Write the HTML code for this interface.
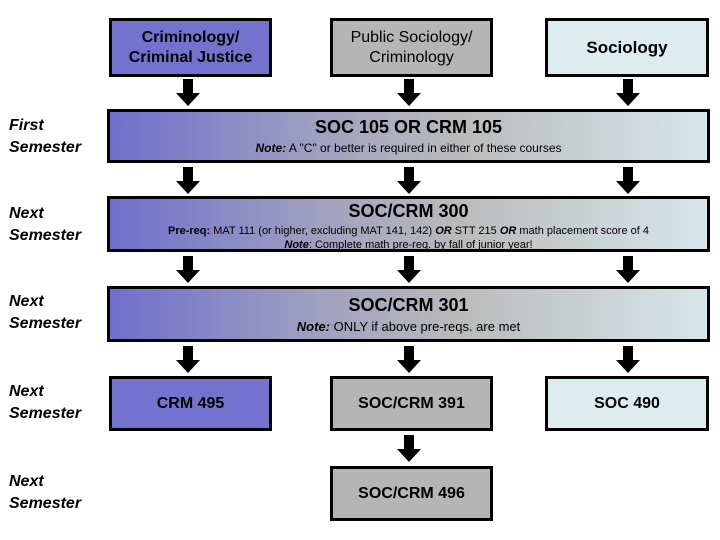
<!DOCTYPE html>
<html><head><meta charset="utf-8"><style>
body{margin:0;width:720px;height:540px;background:#fff;position:relative;overflow:hidden;font-family:"Liberation Sans",Arial,sans-serif;}
.b{position:absolute;box-sizing:border-box;border:3px solid #000;display:flex;flex-direction:column;align-items:center;justify-content:center;text-align:center;font-weight:bold;color:#000;}
.p{background:#7373cf}.g{background:#b5b5b5}.l{background:#dcecef}
.band{background:linear-gradient(to right,#6f6fcd 0%,#a0a0c0 35%,#bcbcbc 60%,#d6e6ea 100%);}
.lab{position:absolute;left:9px;font-style:italic;font-weight:bold;font-size:16px;line-height:22px;}
.t{font-size:18px;}
.n{font-weight:normal;font-size:12px;line-height:15px;}
svg{position:absolute;left:0;top:0}
</style></head><body>
<div class="b p" style="left:109px;top:18px;width:163px;height:59px;font-size:16px;line-height:20px">Criminology/<br>Criminal Justice</div>
<div class="b g" style="left:330px;top:18px;width:163px;height:59px;font-size:16px;line-height:20px;font-weight:normal">Public Sociology/<br>Criminology</div>
<div class="b l" style="left:545px;top:18px;width:164px;height:59px;font-size:17px">Sociology</div>

<div class="lab" style="top:115px">First<br>Semester</div>
<div class="b band" style="left:107px;top:109px;width:603px;height:54px"><div class="t">SOC 105 OR CRM 105</div><div class="n" style="margin-top:3px"><b><i>Note:</i></b> A "C" or better is required in either of these courses</div></div>

<div class="lab" style="top:203px">Next<br>Semester</div>
<div class="b band" style="left:107px;top:196px;width:603px;height:56px;justify-content:flex-start;padding-top:2px"><div class="t">SOC/CRM 300</div><div class="n" style="font-size:11px;line-height:14px;margin-top:2px"><b>Pre-req:</b> MAT 111 (or higher, excluding MAT 141, 142) <b><i>OR</i></b> STT 215 <b><i>OR</i></b> math placement score of 4<br><b><i>Note</i></b>: Complete math pre-req. by fall of junior year!</div></div>

<div class="lab" style="top:291px">Next<br>Semester</div>
<div class="b band" style="left:107px;top:286px;width:603px;height:56px"><div class="t">SOC/CRM 301</div><div class="n" style="margin-top:3px;font-size:13px"><b><i>Note:</i></b> ONLY if above pre-reqs. are  met</div></div>

<div class="lab" style="top:381px">Next<br>Semester</div>
<div class="b p" style="left:109px;top:376px;width:163px;height:55px;font-size:16px">CRM 495</div>
<div class="b g" style="left:330px;top:376px;width:163px;height:55px;font-size:16px">SOC/CRM 391</div>
<div class="b l" style="left:545px;top:376px;width:164px;height:55px;font-size:16px">SOC 490</div>

<div class="lab" style="top:471px">Next<br>Semester</div>
<div class="b g" style="left:330px;top:466px;width:163px;height:55px;font-size:16px">SOC/CRM 496</div>

<svg width="720" height="540">
<defs><path id="a" d="M-5,0 H5 V14 H12 L0,27 L-12,14 H-5 Z" fill="#000"/></defs>
<use href="#a" x="188" y="79"/><use href="#a" x="409" y="79"/><use href="#a" x="628" y="79"/>
<use href="#a" x="188" y="167"/><use href="#a" x="409" y="167"/><use href="#a" x="628" y="167"/>
<use href="#a" x="188" y="256"/><use href="#a" x="409" y="256"/><use href="#a" x="628" y="256"/>
<use href="#a" x="188" y="346"/><use href="#a" x="409" y="346"/><use href="#a" x="628" y="346"/>
<use href="#a" x="409" y="435"/>
</svg>
</body></html>
